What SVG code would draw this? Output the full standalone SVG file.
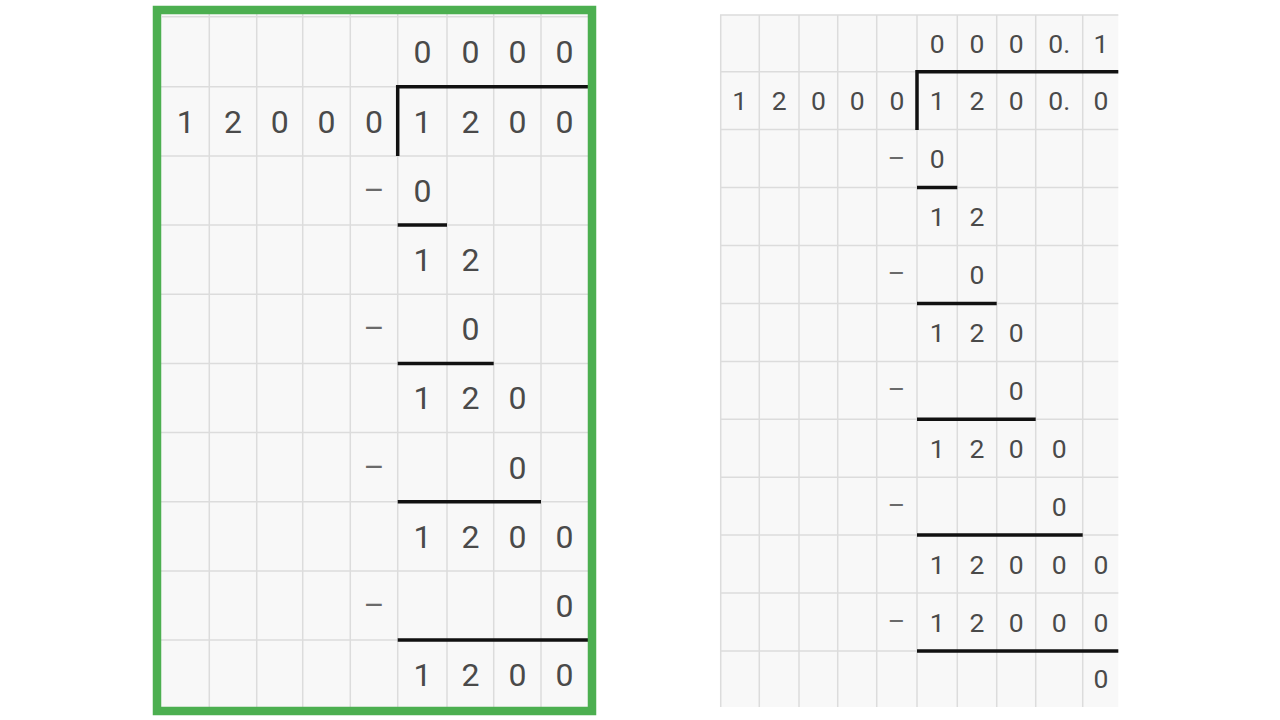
<svg xmlns="http://www.w3.org/2000/svg" width="1280" height="720" viewBox="0 0 1280 720">
  <style>
    .bg { fill: #f8f8f8; }
    .grid { stroke: #dcdcdc; stroke-width: 1.5; fill: none; }
    .bold { stroke: #111; stroke-width: 3.5; fill: none; stroke-linecap: butt; }
    .dl { font-family: Roboto, "Liberation Sans", sans-serif; font-size: 32px; fill: #4a4a4a; text-anchor: middle; }
    .dr { font-family: Roboto, "Liberation Sans", sans-serif; font-size: 26.5px; fill: #4a4a4a; text-anchor: middle; }
    .ml { font-family: Roboto, "Liberation Sans", sans-serif; font-size: 32px; fill: #6a6a6a; text-anchor: middle; }
    .mr { font-family: Roboto, "Liberation Sans", sans-serif; font-size: 26.5px; fill: #6a6a6a; text-anchor: middle; }
  </style>
  <rect width="1280" height="720" fill="#ffffff"/>

  <!-- LEFT PANEL -->
  <g id="left-panel">
    <rect class="bg" x="157" y="10" width="435" height="701"/>
    <g id="left-grid" class="grid">
      <path d="M162 16.7H592 M157 86.7H592 M157 155.9H592 M157 225H592 M157 294.2H592 M157 363.4H592 M157 432.5H592 M157 501.7H592 M157 570.9H592 M157 640H592"/>
      <path d="M209.3 10V711 M256.7 10V711 M302.7 10V711 M350.3 10V711 M397.7 10V711 M447 10V711 M493.7 10V711 M541 10V711"/>
    </g>
    <g id="left-lines" class="bold">
      <path d="M397.7 86.7H590 M397.7 85V156"/>
      <path d="M397.7 225H447"/>
      <path d="M397.7 363.4H493.7"/>
      <path d="M397.7 501.7H541"/>
      <path d="M397.7 640H590"/>
    </g>
    <g id="left-text">
      <text class="dl" x="422.4" y="63.4">0</text><text class="dl" x="470.4" y="63.4">0</text><text class="dl" x="517.4" y="63.4">0</text><text class="dl" x="564.5" y="63.4">0</text>
      <text class="dl" x="185.7" y="132.7">1</text><text class="dl" x="233" y="132.7">2</text><text class="dl" x="279.7" y="132.7">0</text><text class="dl" x="326.5" y="132.7">0</text><text class="dl" x="374" y="132.7">0</text>
      <text class="dl" x="422.4" y="132.7">1</text><text class="dl" x="470.4" y="132.7">2</text><text class="dl" x="517.4" y="132.7">0</text><text class="dl" x="564.5" y="132.7">0</text>
      <text class="ml" x="374" y="200.9">–</text><text class="dl" x="422.4" y="201.9">0</text>
      <text class="dl" x="422.4" y="271">1</text><text class="dl" x="470.4" y="271">2</text>
      <text class="ml" x="374" y="339.2">–</text><text class="dl" x="470.4" y="340.2">0</text>
      <text class="dl" x="422.4" y="409.4">1</text><text class="dl" x="470.4" y="409.4">2</text><text class="dl" x="517.4" y="409.4">0</text>
      <text class="ml" x="374" y="477.5">–</text><text class="dl" x="517.4" y="478.5">0</text>
      <text class="dl" x="422.4" y="547.7">1</text><text class="dl" x="470.4" y="547.7">2</text><text class="dl" x="517.4" y="547.7">0</text><text class="dl" x="564.5" y="547.7">0</text>
      <text class="ml" x="374" y="615.9">–</text><text class="dl" x="564.5" y="616.9">0</text>
      <text class="dl" x="422.4" y="686">1</text><text class="dl" x="470.4" y="686">2</text><text class="dl" x="517.4" y="686">0</text><text class="dl" x="564.5" y="686">0</text>
    </g>
    <rect id="left-frame" x="157" y="10" width="435" height="701" fill="none" stroke="#4caf50" stroke-width="8.5"/>
  </g>

  <!-- RIGHT PANEL -->
  <g id="right-panel">
    <rect class="bg" x="720" y="15" width="398.3" height="692"/>
    <g id="right-grid" class="grid">
      <path d="M720 15H1118.3 M720 71.7H1118.3 M720 129.6H1118.3 M720 187.6H1118.3 M720 245.5H1118.3 M720 303.4H1118.3 M720 361.4H1118.3 M720 419.3H1118.3 M720 477.2H1118.3 M720 535.1H1118.3 M720 593.1H1118.3 M720 651H1118.3"/>
      <path d="M720.7 15V707 M759.3 15V707 M799 15V707 M837.7 15V707 M876.7 15V707 M917 15V707 M957.3 15V707 M996.7 15V707 M1035.7 15V707 M1082.7 15V707"/>
    </g>
    <g id="right-lines" class="bold">
      <path d="M917 71.7H1118.3 M917 70V130"/>
      <path d="M917 187.6H957.3"/>
      <path d="M917 303.4H996.7"/>
      <path d="M917 419.3H1035.7"/>
      <path d="M917 535.1H1082.7"/>
      <path d="M917 651H1118.3"/>
    </g>
    <g id="right-text">
      <text class="dr" x="937.2" y="52.7">0</text><text class="dr" x="977" y="52.7">0</text><text class="dr" x="1016.2" y="52.7">0</text><text class="dr" x="1059.2" y="52.7">0.</text><text class="dr" x="1101" y="52.7">1</text>
      <text class="dr" x="739.7" y="110.1">1</text><text class="dr" x="779.2" y="110.1">2</text><text class="dr" x="818.4" y="110.1">0</text><text class="dr" x="857.2" y="110.1">0</text><text class="dr" x="896.9" y="110.1">0</text>
      <text class="dr" x="937.2" y="110.1">1</text><text class="dr" x="977" y="110.1">2</text><text class="dr" x="1016.2" y="110.1">0</text><text class="dr" x="1059.2" y="110.1">0.</text><text class="dr" x="1101" y="110.1">0</text>
      <text class="mr" x="896.5" y="166.5">–</text><text class="dr" x="937.2" y="168">0</text>
      <text class="dr" x="937.2" y="226">1</text><text class="dr" x="977" y="226">2</text>
      <text class="mr" x="896.5" y="282.4">–</text><text class="dr" x="977" y="283.9">0</text>
      <text class="dr" x="937.2" y="341.8">1</text><text class="dr" x="977" y="341.8">2</text><text class="dr" x="1016.2" y="341.8">0</text>
      <text class="mr" x="896.5" y="398.3">–</text><text class="dr" x="1016.2" y="399.8">0</text>
      <text class="dr" x="937.2" y="457.7">1</text><text class="dr" x="977" y="457.7">2</text><text class="dr" x="1016.2" y="457.7">0</text><text class="dr" x="1059.2" y="457.7">0</text>
      <text class="mr" x="896.5" y="514.1">–</text><text class="dr" x="1059.2" y="515.6">0</text>
      <text class="dr" x="937.2" y="573.5">1</text><text class="dr" x="977" y="573.5">2</text><text class="dr" x="1016.2" y="573.5">0</text><text class="dr" x="1059.2" y="573.5">0</text><text class="dr" x="1101" y="573.5">0</text>
      <text class="mr" x="896.5" y="630">–</text><text class="dr" x="937.2" y="631.5">1</text><text class="dr" x="977" y="631.5">2</text><text class="dr" x="1016.2" y="631.5">0</text><text class="dr" x="1059.2" y="631.5">0</text><text class="dr" x="1101" y="631.5">0</text>
      <text class="dr" x="1101" y="688.4">0</text>
    </g>
  </g>
</svg>
